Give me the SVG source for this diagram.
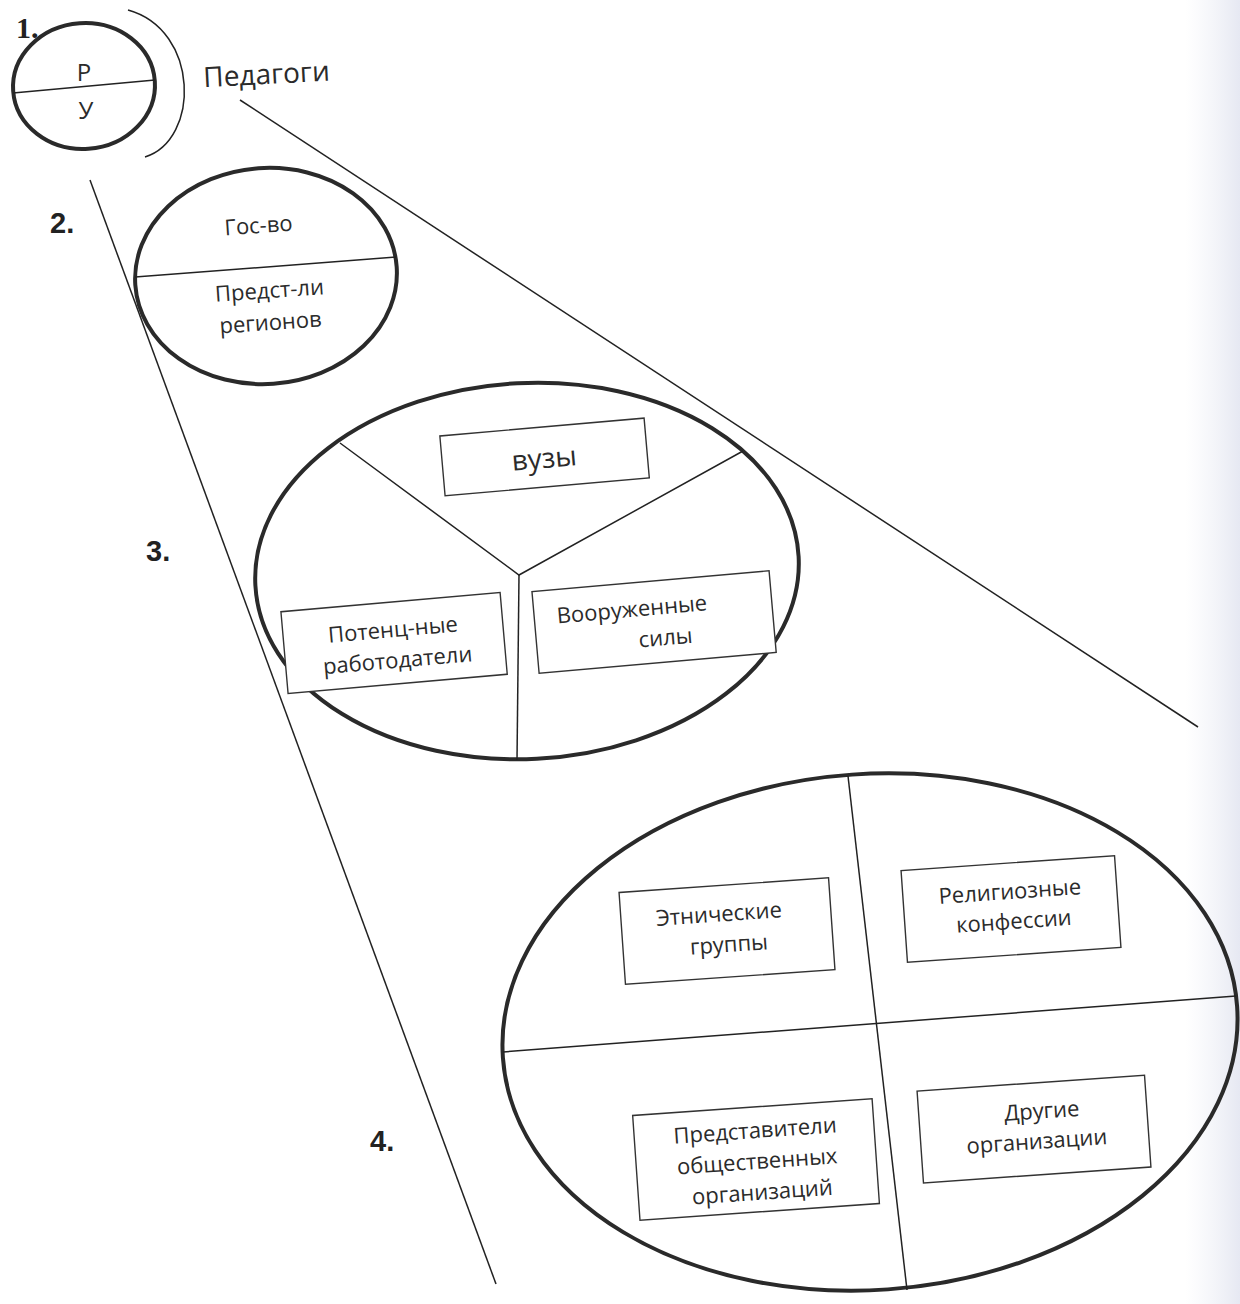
<svg xmlns="http://www.w3.org/2000/svg" width="1240" height="1304" viewBox="0 0 1240 1304">
<style>
.oval{fill:none;stroke:#2a2a2a;stroke-width:4}
.div{fill:none;stroke:#222;stroke-width:1.5}
.box{fill:#fff;stroke:#333;stroke-width:1.4}
.t{font-family:"Open Sans","Liberation Sans",sans-serif;fill:#2b2b2b;text-anchor:middle;font-size:22px}
.num{font-family:"Liberation Sans",sans-serif;font-weight:bold;fill:#222;font-size:29px}
</style>
<defs>
<linearGradient id="shade" x1="0" y1="0" x2="1" y2="0">
<stop offset="0" stop-color="#eef0f6" stop-opacity="0"/>
<stop offset="1" stop-color="#e6e8f2" stop-opacity="1"/>
</linearGradient>
</defs>
<rect width="1240" height="1304" fill="#fff"/>
<rect x="1185" y="0" width="55" height="1304" fill="url(#shade)"/>

<g id="connectors">
<line class="div" x1="90" y1="180" x2="496" y2="1284"/>
<line class="div" x1="240" y1="100" x2="1198" y2="727"/>
</g>

<g id="level1">
<text x="16" y="38" font-family="Liberation Serif,serif" font-weight="bold" font-size="30" fill="#222">1.</text>
<ellipse class="oval" cx="84" cy="86" rx="71" ry="63" transform="rotate(-4 84 86)"/>
<line class="div" x1="13" y1="93" x2="155" y2="80"/>
<text class="t" x="84" y="81" style="font-size:24px">Р</text>
<text class="t" x="86" y="119" style="font-size:24px">У</text>
<path class="div" d="M128,10 C200,30 200,140 145,157" stroke-width="2"/>
<text class="t" x="267" y="84" style="font-size:28px" transform="rotate(-3 267 84)">Педагоги</text>
</g>

<g id="level2">
<text class="num" x="50" y="233">2.</text>
<ellipse class="oval" cx="266" cy="276" rx="131" ry="108" transform="rotate(-4 266 276)"/>
<line class="div" x1="135" y1="277" x2="396" y2="257"/>
<text class="t" x="259" y="233" transform="rotate(-4 259 233)">Гос-во</text>
<text class="t" x="270" y="298" transform="rotate(-4 270 298)">Предст-ли</text>
<text class="t" x="271" y="330" transform="rotate(-4 271 330)">регионов</text>
</g>

<g id="level3">
<text class="num" x="146" y="561">3.</text>
<ellipse class="oval" cx="527" cy="571" rx="272" ry="188" transform="rotate(-3 527 571)"/>
<polyline class="div" points="340,443 519,575 743,451"/>
<line class="div" x1="519" y1="575" x2="517" y2="760"/>
<g id="vuzy" transform="rotate(-5 544 456)">
<rect class="box" x="442" y="427" width="205" height="60"/>
<text class="t" x="544" y="468" style="font-size:28px">вузы</text>
</g>
<g id="rabotodateli" transform="rotate(-5 394 642)">
<rect class="box" x="284" y="602" width="220" height="82"/>
<text class="t" x="394" y="637">Потенц-ные</text>
<text class="t" x="396" y="668">работодатели</text>
</g>
<g id="vooruzhennye" transform="rotate(-5 654 621)">
<rect class="box" x="535" y="581" width="238" height="82"/>
<text class="t" x="633" y="615">Вооруженные</text>
<text class="t" x="664" y="646">силы</text>
</g>
</g>

<g id="level4">
<text class="num" x="370" y="1151">4.</text>
<ellipse class="oval" cx="870" cy="1032" rx="368" ry="258" transform="rotate(-4 870 1032)"/>
<line class="div" x1="503" y1="1052" x2="1236" y2="996"/>
<line class="div" x1="848" y1="776" x2="907" y2="1290"/>
<g id="etnicheskie" transform="rotate(-4 728 931)">
<rect class="box" x="622" y="885" width="210" height="92"/>
<text class="t" x="720" y="921">Этнические</text>
<text class="t" x="728" y="952">группы</text>
</g>
<g id="religioznye" transform="rotate(-4 1011 909)">
<rect class="box" x="904" y="863" width="214" height="92"/>
<text class="t" x="1011" y="899">Религиозные</text>
<text class="t" x="1013" y="929">конфессии</text>
</g>
<g id="predstaviteli" transform="rotate(-4 756 1159)">
<rect class="box" x="636" y="1107" width="240" height="105"/>
<text class="t" x="757" y="1138">Представители</text>
<text class="t" x="757" y="1169">общественных</text>
<text class="t" x="760" y="1200">организаций</text>
</g>
<g id="drugie" transform="rotate(-4 1035 1129)">
<rect class="box" x="920" y="1083" width="228" height="92"/>
<text class="t" x="1043" y="1119">Другие</text>
<text class="t" x="1036" y="1149">организации</text>
</g>
</g>
</svg>
